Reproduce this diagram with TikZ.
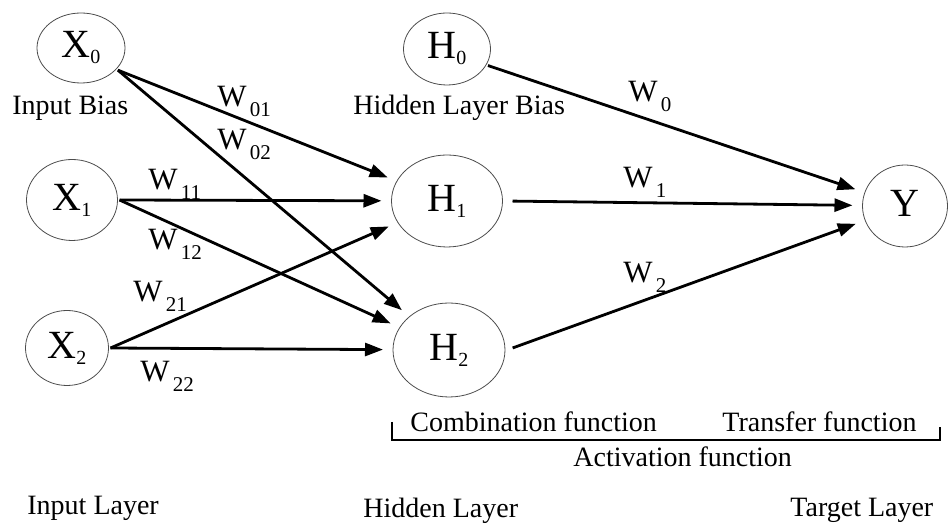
\documentclass[tikz,border=0pt]{standalone}
\usepackage{fontspec}
\setmainfont{Liberation Serif}
\usetikzlibrary{arrows.meta,shapes.geometric}
\newcommand{\nodelbl}[2]{{\fontsize{20}{21}\selectfont #1}\raisebox{-3pt}{\fontsize{10}{10}\selectfont #2}}
\newcommand{\wlbl}[1]{{\fontsize{15.5}{16}\selectfont W}\,\raisebox{-5pt}{\fontsize{10.5}{11}\selectfont #1}}

\begin{document}
\begin{tikzpicture}[x=0.5pt, y=0.5pt,
  unit/.style={draw=black!70, ellipse, inner sep=0pt, outer sep=1pt},
  arr/.style={-{Triangle[length=9pt,width=6.5pt]}, line width=1.4pt, shorten >=4pt},
  wt/.style={anchor=base west, inner sep=0pt},
  captxt/.style={anchor=base west, inner sep=0pt, font=\fontsize{14}{16}\selectfont},
  brace/.style={line width=1pt}]
\useasboundingbox (0,0) rectangle (948,524);
% layers
\node[unit, minimum width=44pt, minimum height=35pt] (x0) at (81,476) {\nodelbl{X}{0}};
\node[unit, minimum width=45.5pt, minimum height=40.5pt] (x1) at (72,324) {\nodelbl{X}{1}};
\node[unit, minimum width=41.5pt, minimum height=37.5pt] (x2) at (67,176) {\nodelbl{X}{2}};
\node[unit, minimum width=43.5pt, minimum height=36pt] (h0) at (447,475) {\nodelbl{H}{0}};
\node[unit, minimum width=55.5pt, minimum height=46pt] (h1) at (447,323) {\nodelbl{H}{1}};
\node[unit, minimum width=56pt, minimum height=47pt] (h2) at (449,174) {\nodelbl{H}{2}};
\node[unit, minimum width=42.5pt, minimum height=41pt] (y) at (905,318) {\nodelbl{Y}{}};
% weights
\draw[arr] (x0.-31) -- (h1);
\draw[arr] (x0.-31) -- (h2);
\draw[arr] (x1.east) -- (h1);
\draw[arr] (x1.east) -- (h2);
\draw[arr] (x2.east) -- (h1);
\draw[arr] (x2.east) -- (h2);
\draw[arr] (h0.-22) -- (y);
\draw[arr, shorten <=4pt] (h1.east) -- (y);
\draw[arr, shorten <=3pt] (h2.east) -- (y);
\node[wt] (w01) at (217,417) {\wlbl{01}};
\node[wt] (w02) at (217,374) {\wlbl{02}};
\node[wt] (w11) at (148,334) {\wlbl{11}};
\node[wt] (w12) at (148,274) {\wlbl{12}};
\node[wt] (w21) at (133,222) {\wlbl{21}};
\node[wt] (w22) at (140,142) {\wlbl{22}};
\node[wt] (w0) at (628,422) {\wlbl{0}};
\node[wt] (w1) at (623,336) {\wlbl{1}};
\node[wt] (w2) at (623,241) {\wlbl{2}};
% captions
\node[captxt] (ibias) at (12,409) {Input Bias};
\node[captxt] (hbias) at (353,409) {Hidden Layer Bias};
\node[captxt] (comb) at (410,92) {Combination function};
\node[captxt] (trans) at (722,92) {Transfer function};
\node[captxt] (act) at (573,57) {Activation function};
\node[captxt] (inl) at (27,9) {Input Layer};
\node[captxt] (hidl) at (363,6) {Hidden Layer};
\node[captxt] (tarl) at (790,7) {Target Layer};
\coordinate (actl) at (392,102);
\coordinate (actr) at (940,97);
\draw[brace] (actl) -- ++(0,-18) -| (actr);
\end{tikzpicture}
\end{document}
